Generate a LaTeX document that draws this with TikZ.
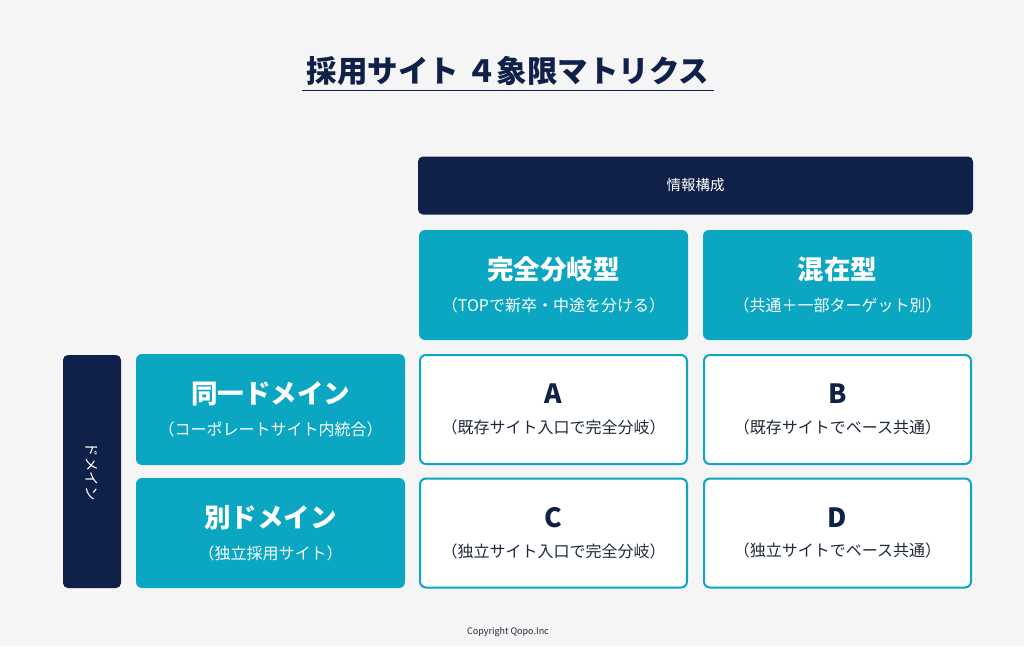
\documentclass[tikz,border=0pt]{standalone}
\usepackage{fontspec}
\setmainfont{Noto Sans CJK JP}
\usepackage{xcolor}
\definecolor{navy}{HTML}{0F2149}
\definecolor{teal}{HTML}{0AA6C2}
\definecolor{bg}{HTML}{F5F5F5}
\definecolor{ink}{HTML}{1E2A3A}
\begin{document}
\begin{tikzpicture}[x=1pt,y=-1pt]
\tikzstyle{navybox} = [rectangle, fill=navy, rounded corners=5pt, text=white]
\tikzstyle{head} = [rectangle, fill=teal, rounded corners=6pt, text=white,
minimum width=269pt, minimum height=110pt, align=center]
\tikzstyle{cell} = [rectangle, draw=teal, line width=2pt, fill=white, rounded corners=6pt,
text=ink, minimum width=267pt, minimum height=109pt, align=center]
\newcommand{\bigtxt}{\fontsize{26.5}{30}\selectfont\bfseries}
\newcommand{\subtxt}{\fontsize{16}{17}\selectfont\mdseries}
% background
\fill[bg] (0,0) rectangle (1024,646);
\useasboundingbox (0,0) rectangle (1024,646);
% title
\node[text=navy, font=\fontsize{30.5}{34}\selectfont\bfseries] (title) at (508,71) {採用サイト ４象限マトリクス};
\draw[navy, line width=1.2pt] ([xshift=-1pt,yshift=-1pt]title.south west) -- ([xshift=1pt,yshift=-1pt]title.south east);
% headers
\node[navybox, minimum width=555pt, minimum height=58pt, font=\fontsize{14.5}{16}\selectfont] (info) at (695.5,185.5) {情報構成};
\node[navybox, minimum width=58pt, minimum height=233pt] (domain) at (92,471.5) {};
\node[text=white, rotate=-90, font=\fontsize{14.5}{16}\selectfont] (domaintxt) at (domain.center) {ドメイン};
\node[head] (col1) at (553.5,285) {\bigtxt 完全分岐型\\[15pt]\subtxt （TOPで新卒・中途を分ける）};
\node[head] (col2) at (837.5,285) {\bigtxt 混在型\\[15pt]\subtxt （共通＋一部ターゲット別）};
\node[head, minimum height=111pt] (row1) at (270.5,409.5) {\bigtxt 同一ドメイン\\[15pt]\subtxt （コーポレートサイト内統合）};
\node[head] (row2) at (270.5,533) {\bigtxt 別ドメイン\\[15pt]\subtxt （独立採用サイト）};
% cells
\node[cell] (a) at (553.5,409.5) {{\bigtxt\color{navy} A}\\[15pt]\subtxt （既存サイト入口で完全分岐）};
\node[cell] (b) at (837.5,409.5) {{\bigtxt\color{navy} B}\\[15pt]\subtxt （既存サイトでベース共通）};
\node[cell] (c) at (553.5,533) {{\bigtxt\color{navy} C}\\[15pt]\subtxt （独立サイト入口で完全分岐）};
\node[cell] (d) at (837.5,533) {{\bigtxt\color{navy} D}\\[15pt]\subtxt （独立サイトでベース共通）};
% footer
\node[text=ink, font=\fontsize{9}{11}\selectfont] (copy) at (508,632) {Copyright Qopo.Inc};
\end{tikzpicture}
\end{document}
